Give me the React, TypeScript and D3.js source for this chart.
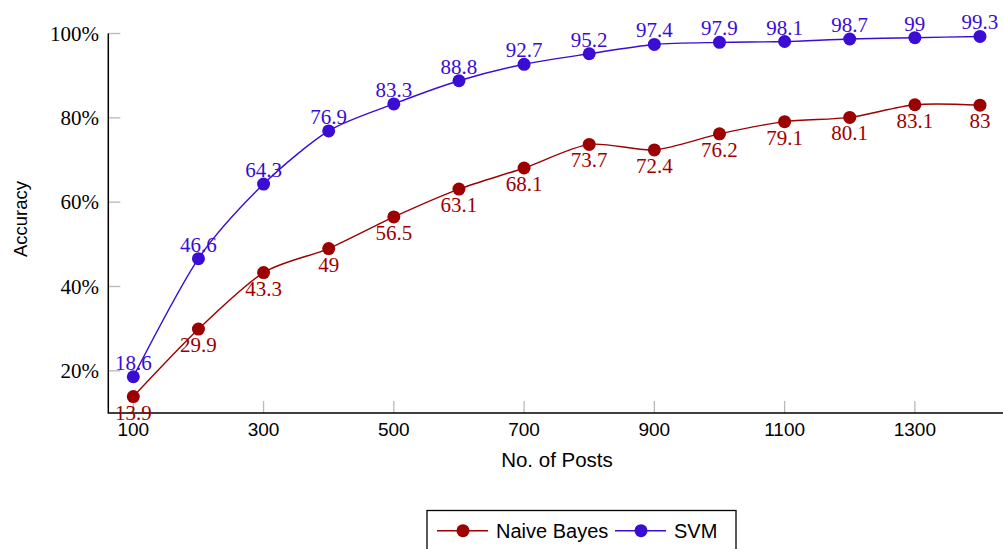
import { useEffect, useRef } from 'react';
import * as d3 from 'd3';

const posts = [100, 200, 300, 400, 500, 600, 700, 800, 900, 1000, 1100, 1200, 1300, 1400];
const naiveBayes = [13.9, 29.9, 43.3, 49, 56.5, 63.1, 68.1, 73.7, 72.4, 76.2, 79.1, 80.1, 83.1, 83];
const svm = [18.6, 46.6, 64.3, 76.9, 83.3, 88.8, 92.7, 95.2, 97.4, 97.9, 98.1, 98.7, 99, 99.3];
const xTicks = [100, 300, 500, 700, 900, 1100, 1300];
const yTicks = [20, 40, 60, 80, 100];

const RED = '#9c0000';
const BLUE = '#3a0cd4';
const SERIF = '"Liberation Serif", serif';
const SANS = '"Liberation Sans", sans-serif';

const W = 1003;
const H = 549;

export default function App() {
  const svgRef = useRef<SVGSVGElement>(null);

  useEffect(() => {
    if (!svgRef.current) return;
    const svg = d3.select(svgRef.current);
    svg.selectAll('*').remove();

    const x = d3.scaleLinear().domain([61.6, 1438.4]).range([108.3, 1005]);
    const y = d3.scaleLinear().domain([10, 100]).range([413, 33.5]);

    // ticks (inside, gray)
    yTicks.forEach(t => {
      svg.append('line')
        .attr('x1', x.range()[0]).attr('x2', x.range()[0] + 12)
        .attr('y1', y(t)).attr('y2', y(t))
        .attr('stroke', '#b8b8b8').attr('stroke-width', 1.3);
      svg.append('text')
        .attr('x', 99).attr('y', y(t) + 7)
        .attr('text-anchor', 'end')
        .attr('font-family', SERIF).attr('font-size', 21)
        .text(`${t}%`);
    });
    xTicks.forEach(t => {
      svg.append('line')
        .attr('x1', x(t)).attr('x2', x(t))
        .attr('y1', y.range()[0]).attr('y2', y.range()[0] - 12)
        .attr('stroke', '#b8b8b8').attr('stroke-width', 1.3);
      svg.append('text')
        .attr('x', x(t)).attr('y', 436)
        .attr('text-anchor', 'middle')
        .attr('font-family', SANS).attr('font-size', 19)
        .text(t);
    });

    // axis lines (left + bottom only)
    svg.append('path')
      .attr('d', `M${x.range()[0]},${y.range()[1]} V${y.range()[0]} H${W}`)
      .attr('fill', 'none').attr('stroke', '#000').attr('stroke-width', 1.5);

    svg.append('text')
      .attr('transform', `translate(26.5, 219) rotate(-90)`)
      .attr('text-anchor', 'middle')
      .attr('font-family', SANS).attr('font-size', 18.5)
      .text('Accuracy');
    svg.append('text')
      .attr('x', 557).attr('y', 467)
      .attr('text-anchor', 'middle')
      .attr('font-family', SANS).attr('font-size', 20.5)
      .text('No. of Posts');

    const line = d3.line<number>()
      .x((_, i) => x(posts[i]))
      .y(d => y(d))
      .curve(d3.curveCardinal.tension(0.2));

    const series = [
      { values: naiveBayes, color: RED, dy: 23 },
      { values: svm, color: BLUE, dy: -7 },
    ];

    series.forEach(s => {
      svg.append('path')
        .datum(s.values)
        .attr('d', line)
        .attr('fill', 'none')
        .attr('stroke', s.color)
        .attr('stroke-width', 1.4);
      s.values.forEach((v, i) => {
        svg.append('circle')
          .attr('cx', x(posts[i])).attr('cy', y(v))
          .attr('r', 6.5).attr('fill', s.color);
      });
      s.values.forEach((v, i) => {
        svg.append('text')
          .attr('x', x(posts[i])).attr('y', y(v) + s.dy)
          .attr('text-anchor', 'middle')
          .attr('font-family', SERIF).attr('font-size', 21)
          .attr('fill', s.color)
          .text(String(v));
      });
    });

    // legend
    const lg = svg.append('g');
    lg.append('rect')
      .attr('x', 427).attr('y', 510.5).attr('width', 309).attr('height', 60)
      .attr('fill', '#fff').attr('stroke', '#000').attr('stroke-width', 1.3);
    const items = [
      { label: 'Naive Bayes', color: RED, x0: 437 },
      { label: 'SVM', color: BLUE, x0: 615 },
    ];
    items.forEach(it => {
      lg.append('line')
        .attr('x1', it.x0).attr('x2', it.x0 + 51)
        .attr('y1', 530.7).attr('y2', 530.7)
        .attr('stroke', it.color).attr('stroke-width', 1.4);
      lg.append('circle')
        .attr('cx', it.x0 + 26).attr('cy', 530.7).attr('r', 6.5).attr('fill', it.color);
      lg.append('text')
        .attr('x', it.x0 + 59).attr('y', 538)
        .attr('font-family', SANS).attr('font-size', 20)
        .text(it.label);
    });
  }, []);

  return (
    <svg
      ref={svgRef}
      width={W}
      height={H}
      style={{ position: 'absolute', left: 0, top: 0, background: '#fff' }}
    />
  );
}
